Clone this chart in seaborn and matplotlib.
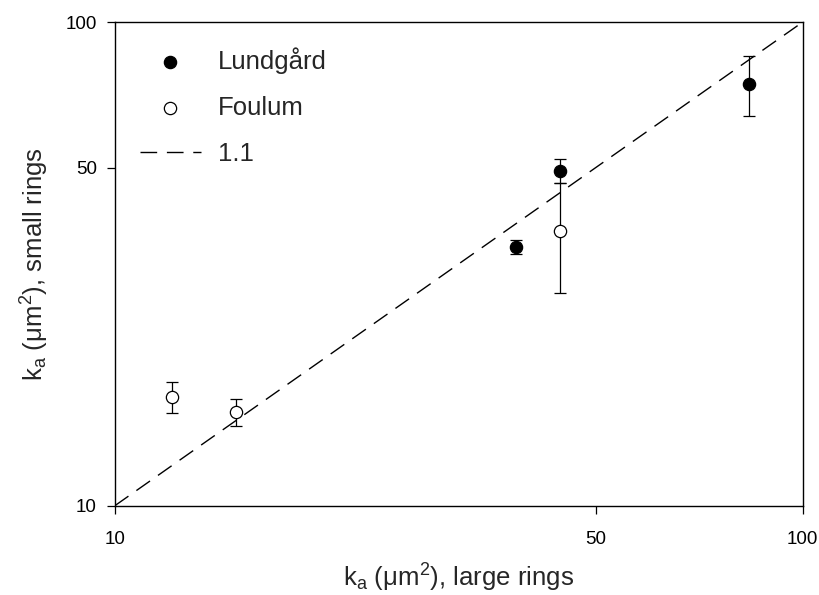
import matplotlib
matplotlib.use("Agg")
import matplotlib.pyplot as plt
import seaborn as sns
import pandas as pd
from matplotlib.ticker import FixedLocator, FixedFormatter, NullLocator

# values (um^2)
lund_large = [38.3, 44.3, 83.5]
lund_small = [34.3, 49.2, 74.5]
lund_err = [1.2, 2.8, 10.5]

foul_large = [12.1, 15.0, 44.3]
foul_small = [16.8, 15.6, 37.0]
foul_err = [1.25, 1.0, 9.5]

line_x = [10, 100]
line_y = [10, 100]

ticks = [10, 50, 100]
tick_labels = ["10", "50", "100"]

sns.set_style("ticks")
plt.rcParams['font.family'] = ['Liberation Sans', 'DejaVu Sans']
plt.rcParams['mathtext.fontset'] = 'custom'
plt.rcParams['mathtext.rm'] = 'Liberation Sans'
plt.rcParams['mathtext.it'] = 'Liberation Sans:italic'

lund = pd.DataFrame({'large': lund_large, 'small': lund_small, 'err': lund_err})
foul = pd.DataFrame({'large': foul_large, 'small': foul_small, 'err': foul_err})

fig, ax = plt.subplots(figsize=(8.2, 5.95), dpi=100)
fig.subplots_adjust(left=0.140, right=0.979, top=0.963, bottom=0.150)

# error bars first, markers on top
ax.errorbar(lund['large'], lund['small'], yerr=lund['err'], fmt='none',
            ecolor='black', elinewidth=0.9, capsize=4, capthick=0.9, zorder=2)
ax.errorbar(foul['large'], foul['small'], yerr=foul['err'], fmt='none',
            ecolor='black', elinewidth=0.9, capsize=4, capthick=0.9, zorder=2)

sns.lineplot(x=line_x, y=line_y, ax=ax, color='black', linewidth=1.0,
             dashes=False, label='1.1', zorder=1)
ax.lines[-1].set_dashes((12, 7))

sns.scatterplot(data=lund, x='large', y='small', ax=ax, color='black',
                edgecolor='black', s=78, linewidth=0.9, label='Lundgård', zorder=3)
sns.scatterplot(data=foul, x='large', y='small', ax=ax, color='white',
                edgecolor='black', s=78, linewidth=0.9, label='Foulum', zorder=3)

ax.set_xscale('log')
ax.set_yscale('log')
ax.set_xlim(10, 100)
ax.set_ylim(10, 100)
for axis in (ax.xaxis, ax.yaxis):
    axis.set_major_locator(FixedLocator(ticks))
    axis.set_major_formatter(FixedFormatter(tick_labels))
    axis.set_minor_locator(NullLocator())
ax.tick_params(axis='both', which='major', direction='out', length=6,
               width=0.9, labelsize=13.5, colors='black', pad=7)
ax.tick_params(axis='x', pad=12)

for sp in ax.spines.values():
    sp.set_visible(True)
    sp.set_linewidth(1.0)
    sp.set_color('black')

ax.set_xlabel('k$_\\mathregular{a}$ (μm$^\\mathregular{2}$), large rings',
              fontsize=18.5, labelpad=10)
ax.set_ylabel('k$_\\mathregular{a}$ (μm$^\\mathregular{2}$), small rings',
              fontsize=18.5, labelpad=10)

handles, labels = ax.get_legend_handles_labels()
order = [labels.index(n) for n in ['Lundgård', 'Foulum', '1.1']]
leg = ax.legend([handles[i] for i in order], [labels[i] for i in order],
                loc='upper left', bbox_to_anchor=(0.01, 0.985), frameon=False,
                fontsize=18.5, handlelength=2.4, handletextpad=0.65,
                labelspacing=0.86, borderaxespad=0.3)

fig.savefig('out.png', dpi=100)
